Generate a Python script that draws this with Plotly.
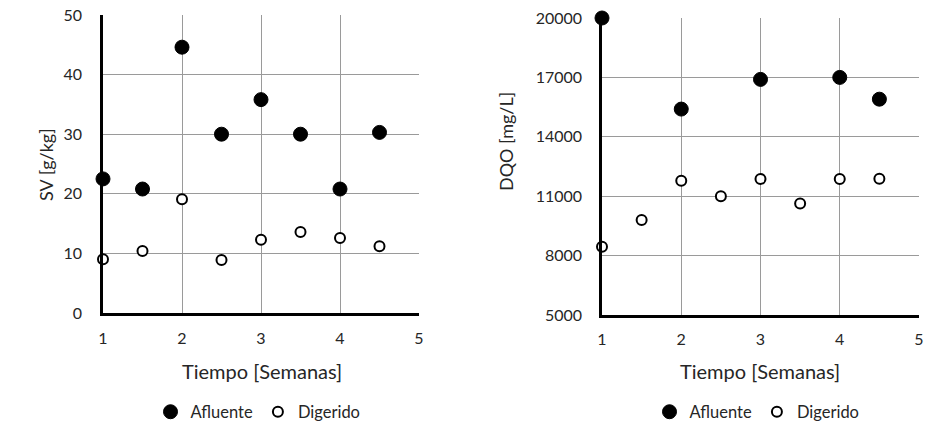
import plotly.graph_objects as go

semanas = [1, 1.5, 2, 2.5, 3, 3.5, 4, 4.5]
sv_afluente = [22.5, 20.8, 44.6, 30.0, 35.8, 30.0, 20.8, 30.3]
sv_digerido = [9.0, 10.4, 19.1, 8.9, 12.3, 13.6, 12.6, 11.2]

semanas_dqo_af = [1, 2, 3, 4, 4.5]
dqo_afluente = [20000, 15400, 16900, 17000, 15900]
dqo_digerido = [8450, 9800, 11780, 11000, 11870, 10630, 11870, 11880]

dqo_ticks = [5000, 8000, 11000, 14000, 17000, 20000]

FONT = "Lato"
TXT = "#262626"
fig = go.Figure()

filled = dict(symbol="circle", size=14, color="black", line=dict(color="black", width=1))
hollow = dict(symbol="circle", size=10, color="white", line=dict(color="black", width=2))

fig.add_trace(go.Scatter(x=semanas, y=sv_afluente, mode="markers", name="Afluente",
                         marker=filled, xaxis="x", yaxis="y", legend="legend", cliponaxis=False))
fig.add_trace(go.Scatter(x=semanas, y=sv_digerido, mode="markers", name="Digerido",
                         marker=hollow, xaxis="x", yaxis="y", legend="legend", cliponaxis=False))
fig.add_trace(go.Scatter(x=semanas_dqo_af, y=dqo_afluente, mode="markers", name="Afluente",
                         marker=filled, xaxis="x2", yaxis="y2", legend="legend2", cliponaxis=False))
fig.add_trace(go.Scatter(x=semanas, y=dqo_digerido, mode="markers", name="Digerido",
                         marker=hollow, xaxis="x2", yaxis="y2", legend="legend2", cliponaxis=False))

W, H = 937, 428
def fx(px): return px / W
def fy(py): return (H - py) / H

axis_common = dict(showgrid=True, gridcolor="#9a9a9a", gridwidth=1.3, zeroline=False,
                   showline=True, linecolor="black", linewidth=2.5, mirror=False, automargin=False,
                   tickfont=dict(family=FONT, size=16, color=TXT), ticks="outside",
                   tickcolor="rgba(0,0,0,0)", fixedrange=True, ticklabeloverflow="allow")

fig.update_layout(
    width=W, height=H, margin=dict(l=0, r=0, t=0, b=0, autoexpand=False),
    paper_bgcolor="white", plot_bgcolor="white",
    font=dict(family=FONT, size=16, color=TXT),
    xaxis=dict(domain=[fx(103), fx(419)], range=[1, 5], dtick=1, anchor="y", ticklen=9, **axis_common),
    yaxis=dict(domain=[fy(313), fy(15)], range=[0, 50], dtick=10, anchor="x", ticklen=15, **axis_common),
    xaxis2=dict(domain=[fx(602), fx(919)], range=[1, 5], dtick=1, anchor="y2", ticklen=8, **axis_common),
    yaxis2=dict(domain=[fy(315), fy(18)], range=[5000, 20000], tickvals=dqo_ticks,
                ticktext=[str(v) for v in dqo_ticks], anchor="x2", ticklen=14, **axis_common),
    legend=dict(orientation="h", x=fx(258), y=fy(412), xanchor="center", yanchor="middle",
                font=dict(family=FONT, size=16.5, color=TXT), itemwidth=30, bgcolor="rgba(0,0,0,0)"),
    legend2=dict(orientation="h", x=fx(757), y=fy(412), xanchor="center", yanchor="middle",
                 font=dict(family=FONT, size=16.5, color=TXT), itemwidth=30, bgcolor="rgba(0,0,0,0)"),
    showlegend=True,
    annotations=[
        dict(text="Tiempo [Semanas]", x=fx(262), y=fy(371), xref="paper", yref="paper", showarrow=False,
             xanchor="center", yanchor="middle", font=dict(family=FONT, size=20, color=TXT)),
        dict(text="Tiempo [Semanas]", x=fx(760), y=fy(371), xref="paper", yref="paper", showarrow=False,
             xanchor="center", yanchor="middle", font=dict(family=FONT, size=20, color=TXT)),
        dict(text="SV [g/kg]", x=fx(46), y=fy(165), xref="paper", yref="paper", showarrow=False, textangle=-90,
             xanchor="center", yanchor="middle", font=dict(family=FONT, size=18, color=TXT)),
        dict(text="DQO [mg/L]", x=fx(506), y=fy(142), xref="paper", yref="paper", showarrow=False, textangle=-90,
             xanchor="center", yanchor="middle", font=dict(family=FONT, size=18, color=TXT)),
    ],
)

fig.write_html("out.html", config={"displayModeBar": False},
               post_script="document.body.style.margin='0';document.body.style.overflow='hidden';")
